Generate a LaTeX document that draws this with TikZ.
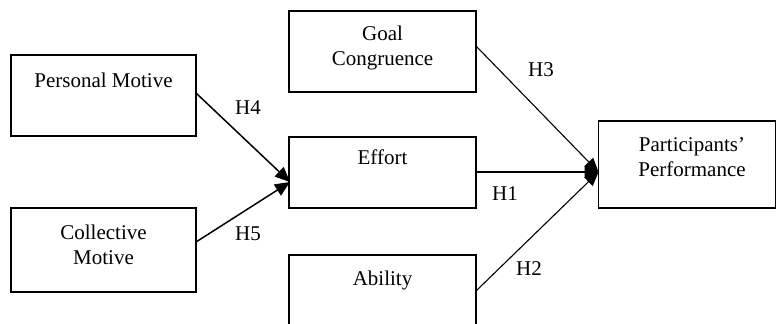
\documentclass[tikz,border=0pt]{standalone}
\usepackage{fontspec}
\setmainfont{Liberation Serif}
\usetikzlibrary{arrows.meta}
\begin{document}
\begin{tikzpicture}[x=1pt,y=-1pt,
  box/.style={draw,line width=1.4pt,rectangle,inner sep=0pt},
  txt/.style={inner sep=0pt,align=center,font=\fontsize{21}{25}\selectfont},
  lab/.style={inner sep=0pt,font=\fontsize{21}{25}\selectfont},
  thick arrow/.style={line width=1.5pt,-{Triangle[length=15pt,width=13pt]}},
  thin arrow/.style={line width=1.1pt,-{Triangle[length=14pt,width=12pt]}}]
\useasboundingbox (0,0) rectangle (777,324);
% boxes
\node[box,minimum width=185pt,minimum height=81pt] (pm) at (103.5,95.5) {};
\node[box,minimum width=185pt,minimum height=84pt] (cm) at (103.5,250) {};
\node[box,minimum width=187pt,minimum height=81pt] (gc) at (382.5,51.5) {};
\node[box,minimum width=187pt,minimum height=71pt] (ef) at (382.5,172.5) {};
\node[box,minimum width=187pt,minimum height=81pt] (ab) at (382.5,295.5) {};
\node[box,minimum width=177pt,minimum height=87pt] (pp) at (687,164.5) {};
% texts
\node[txt] (tpm) at (103.5,80) {Personal Motive};
\node[txt] (tcm) at (103.5,245) {Collective\\Motive};
\node[txt] (tgc) at (382.5,48) {Goal\\Congruence};
\node[txt] (tef) at (382.5,157) {Effort};
\node[txt] (tab) at (382.5,280) {Ability};
\node[txt] (tpp) at (692,157) {Participants’\\Performance};
% connector endpoints
\coordinate (pmo) at (196,93);
\coordinate (cmo) at (196,242);
\coordinate (efi) at (290,182);
\coordinate (gco) at (476,46);
\coordinate (efo) at (476,172);
\coordinate (abo) at (476,291);
\coordinate (ppi) at (598.5,172);
% connectors
\draw[thick arrow] (pmo) -- (efi);
\draw[thick arrow] (cmo) -- (efi);
\draw[thin arrow] (gco) -- (ppi);
\draw[thin arrow] (efo) -- (ppi);
\draw[thin arrow] (abo) -- (ppi);
% labels
\node[lab] (h4) at (248,108) {H4};
\node[lab] (h5) at (248,234) {H5};
\node[lab] (h3) at (541,70) {H3};
\node[lab] (h1) at (505,194) {H1};
\node[lab] (h2) at (529,269) {H2};
\end{tikzpicture}
\end{document}
